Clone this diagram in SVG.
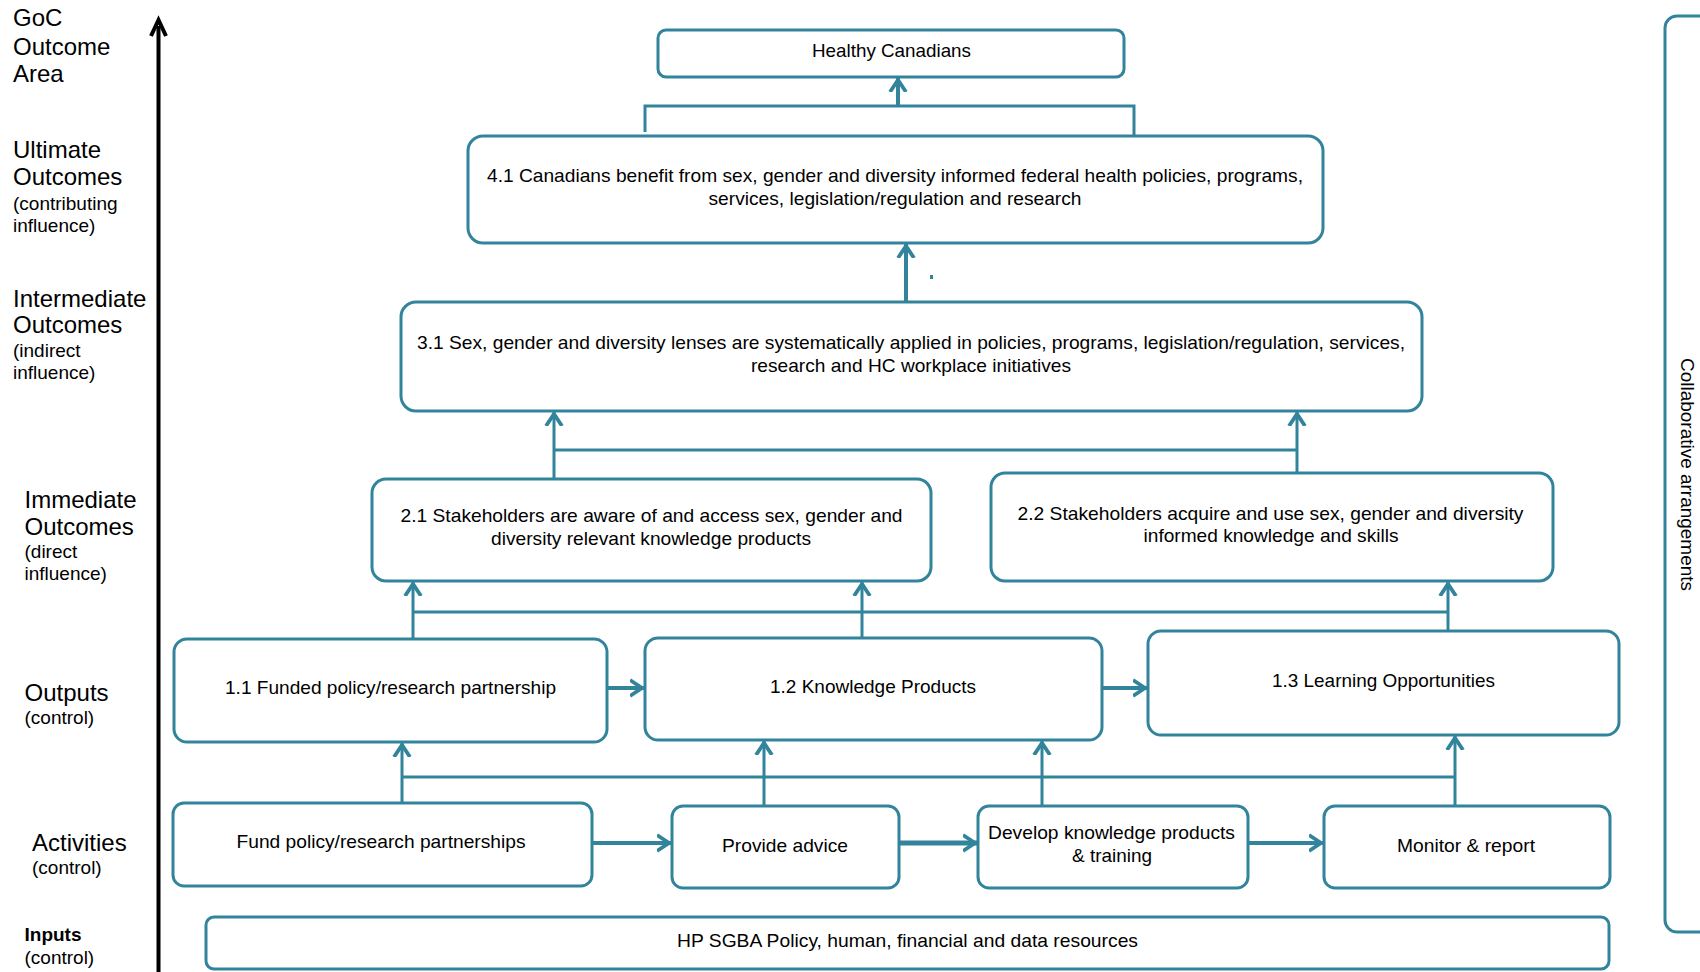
<svg xmlns="http://www.w3.org/2000/svg" width="1700" height="972" viewBox="0 0 1700 972">
<style>
.box{fill:#fff;stroke:#31849B;stroke-width:3}
.t{font-family:"Liberation Sans",Arial,sans-serif;font-size:19px;fill:#000;text-anchor:middle}
.lab{font-family:"Liberation Sans",Arial,sans-serif;font-size:24px;fill:#000}
.sub{font-family:"Liberation Sans",Arial,sans-serif;font-size:19px;fill:#000}
.con{fill:none;stroke:#31849B;stroke-width:3}
.thick{stroke-width:4}
.thicker{stroke-width:5}
</style>
<defs>
<marker id="arr" markerUnits="userSpaceOnUse" viewBox="-12 -12 24 24" markerWidth="24" markerHeight="24" refX="2" refY="0" orient="auto">
<path d="M-12,-8 L0,0 L-12,8" fill="none" stroke="#31849B" stroke-width="3.8"/>
</marker>
</defs>
<rect width="1700" height="972" fill="#fff"/>

<g id="axis">
<line x1="158.5" y1="26" x2="158.5" y2="972" stroke="#000" stroke-width="4"/>
<path d="M151,36 L158.5,20 L166,36" fill="none" stroke="#000" stroke-width="4"/>
</g>

<g id="labels">
<text class="lab" x="13" y="26">GoC</text>
<text class="lab" x="13" y="55">Outcome</text>
<text class="lab" x="13" y="82">Area</text>
<text class="lab" x="13" y="158">Ultimate</text>
<text class="lab" x="13" y="185">Outcomes</text>
<text class="sub" x="13" y="210">(contributing</text>
<text class="sub" x="13" y="232">influence)</text>
<text class="lab" x="13" y="307">Intermediate</text>
<text class="lab" x="13" y="333">Outcomes</text>
<text class="sub" x="13" y="357">(indirect</text>
<text class="sub" x="13" y="379">influence)</text>
<text class="lab" x="24.5" y="508">Immediate</text>
<text class="lab" x="24.5" y="535">Outcomes</text>
<text class="sub" x="24.5" y="558">(direct</text>
<text class="sub" x="24.5" y="580">influence)</text>
<text class="lab" x="24.5" y="701">Outputs</text>
<text class="sub" x="24.5" y="724">(control)</text>
<text class="lab" x="32" y="851">Activities</text>
<text class="sub" x="32" y="874">(control)</text>
<text class="sub" x="24.5" y="941" font-weight="bold" font-size="21">Inputs</text>
<text class="sub" x="24.5" y="964">(control)</text>
</g>

<g id="connectors">
<path class="con" d="M645,132 V106 H1134 V135"/>
<path class="con thick" d="M898,106 V78" marker-end="url(#arr)"/>
<path class="con thick" d="M906,302 V244" marker-end="url(#arr)"/>
<rect x="930" y="275" width="3" height="4" fill="#31849B"/>
<path class="con" d="M554,450 H1297"/>
<path class="con" d="M554,479 V412" marker-end="url(#arr)"/>
<path class="con" d="M1297,473 V412" marker-end="url(#arr)"/>
<path class="con" d="M413,612 H1448"/>
<path class="con" d="M413,639 V582" marker-end="url(#arr)"/>
<path class="con" d="M862,638 V582" marker-end="url(#arr)"/>
<path class="con" d="M1448,631 V582" marker-end="url(#arr)"/>
<path class="con thick" d="M606,688 H644" marker-end="url(#arr)"/>
<path class="con thick" d="M1102,688 H1147" marker-end="url(#arr)"/>
<path class="con" d="M402,777 H1455"/>
<path class="con" d="M402,803 V743" marker-end="url(#arr)"/>
<path class="con" d="M764,806 V741" marker-end="url(#arr)"/>
<path class="con" d="M1042,806 V741" marker-end="url(#arr)"/>
<path class="con" d="M1455,806 V736" marker-end="url(#arr)"/>
<path class="con thick" d="M592,843 H671" marker-end="url(#arr)"/>
<path class="con thicker" d="M899,843 H977" marker-end="url(#arr)"/>
<path class="con thick" d="M1248,843 H1323" marker-end="url(#arr)"/>
</g>

<g id="n-healthy">
<rect class="box" x="658" y="30" width="466" height="47" rx="8"/>
<text class="t" x="891.5" y="57" textLength="159" lengthAdjust="spacingAndGlyphs">Healthy Canadians</text>
</g>

<g id="n-4-1">
<rect class="box" x="468" y="136" width="855" height="107" rx="15"/>
<text class="t" x="895" y="182" textLength="816" lengthAdjust="spacingAndGlyphs">4.1 Canadians benefit from  sex, gender and diversity informed federal health policies, programs,</text>
<text class="t" x="895" y="205" textLength="373" lengthAdjust="spacingAndGlyphs">services, legislation/regulation and research</text>
</g>

<g id="n-3-1">
<rect class="box" x="401" y="302" width="1021" height="109" rx="15"/>
<text class="t" x="911" y="349" textLength="988" lengthAdjust="spacingAndGlyphs">3.1 Sex, gender and diversity lenses are systematically applied in policies, programs, legislation/regulation, services,</text>
<text class="t" x="911" y="372" textLength="320" lengthAdjust="spacingAndGlyphs">research and HC workplace initiatives</text>
</g>

<g id="n-2-1">
<rect class="box" x="372" y="479" width="559" height="102" rx="14"/>
<text class="t" x="651.5" y="522" textLength="502" lengthAdjust="spacingAndGlyphs">2.1 Stakeholders are aware of and access sex, gender and</text>
<text class="t" x="651" y="545" textLength="320" lengthAdjust="spacingAndGlyphs">diversity relevant knowledge products</text>
</g>

<g id="n-2-2">
<rect class="box" x="991" y="473" width="562" height="108" rx="14"/>
<text class="t" x="1270.5" y="520" textLength="506" lengthAdjust="spacingAndGlyphs">2.2 Stakeholders acquire and use sex, gender and diversity</text>
<text class="t" x="1271" y="542" textLength="255" lengthAdjust="spacingAndGlyphs">informed knowledge and skills</text>
</g>

<g id="n-1-1">
<rect class="box" x="174" y="639" width="433" height="103" rx="13"/>
<text class="t" x="390.5" y="694" textLength="331" lengthAdjust="spacingAndGlyphs">1.1 Funded policy/research partnership</text>
</g>

<g id="n-1-2">
<rect class="box" x="645" y="638" width="457" height="102" rx="13"/>
<text class="t" x="873" y="693" textLength="206" lengthAdjust="spacingAndGlyphs">1.2 Knowledge Products</text>
</g>

<g id="n-1-3">
<rect class="box" x="1148" y="631" width="471" height="104" rx="13"/>
<text class="t" x="1383.5" y="687" textLength="223" lengthAdjust="spacingAndGlyphs">1.3 Learning Opportunities</text>
</g>

<g id="n-fund">
<rect class="box" x="173" y="803" width="419" height="83" rx="11"/>
<text class="t" x="381" y="848" textLength="289" lengthAdjust="spacingAndGlyphs">Fund policy/research partnerships</text>
</g>

<g id="n-advice">
<rect class="box" x="672" y="806" width="227" height="82" rx="11"/>
<text class="t" x="785" y="852" textLength="126" lengthAdjust="spacingAndGlyphs">Provide advice</text>
</g>

<g id="n-develop">
<rect class="box" x="978" y="806" width="270" height="82" rx="11"/>
<text class="t" x="1111.5" y="839" textLength="247" lengthAdjust="spacingAndGlyphs">Develop knowledge products</text>
<text class="t" x="1112" y="862" textLength="80" lengthAdjust="spacingAndGlyphs">&amp; training</text>
</g>

<g id="n-monitor">
<rect class="box" x="1324" y="806" width="286" height="82" rx="11"/>
<text class="t" x="1466" y="852" textLength="138" lengthAdjust="spacingAndGlyphs">Monitor &amp; report</text>
</g>

<g id="n-inputs">
<rect class="box" x="206" y="917" width="1403" height="52" rx="8"/>
<text class="t" x="907.5" y="947" textLength="461" lengthAdjust="spacingAndGlyphs">HP SGBA Policy, human, financial and data resources</text>
</g>

<g id="n-collab">
<rect class="box" x="1665" y="16" width="100" height="916" rx="12"/>
<text class="t" transform="translate(1680.5,474.5) rotate(90)" textLength="233" lengthAdjust="spacingAndGlyphs">Collaborative arrangements</text>
</g>
</svg>
